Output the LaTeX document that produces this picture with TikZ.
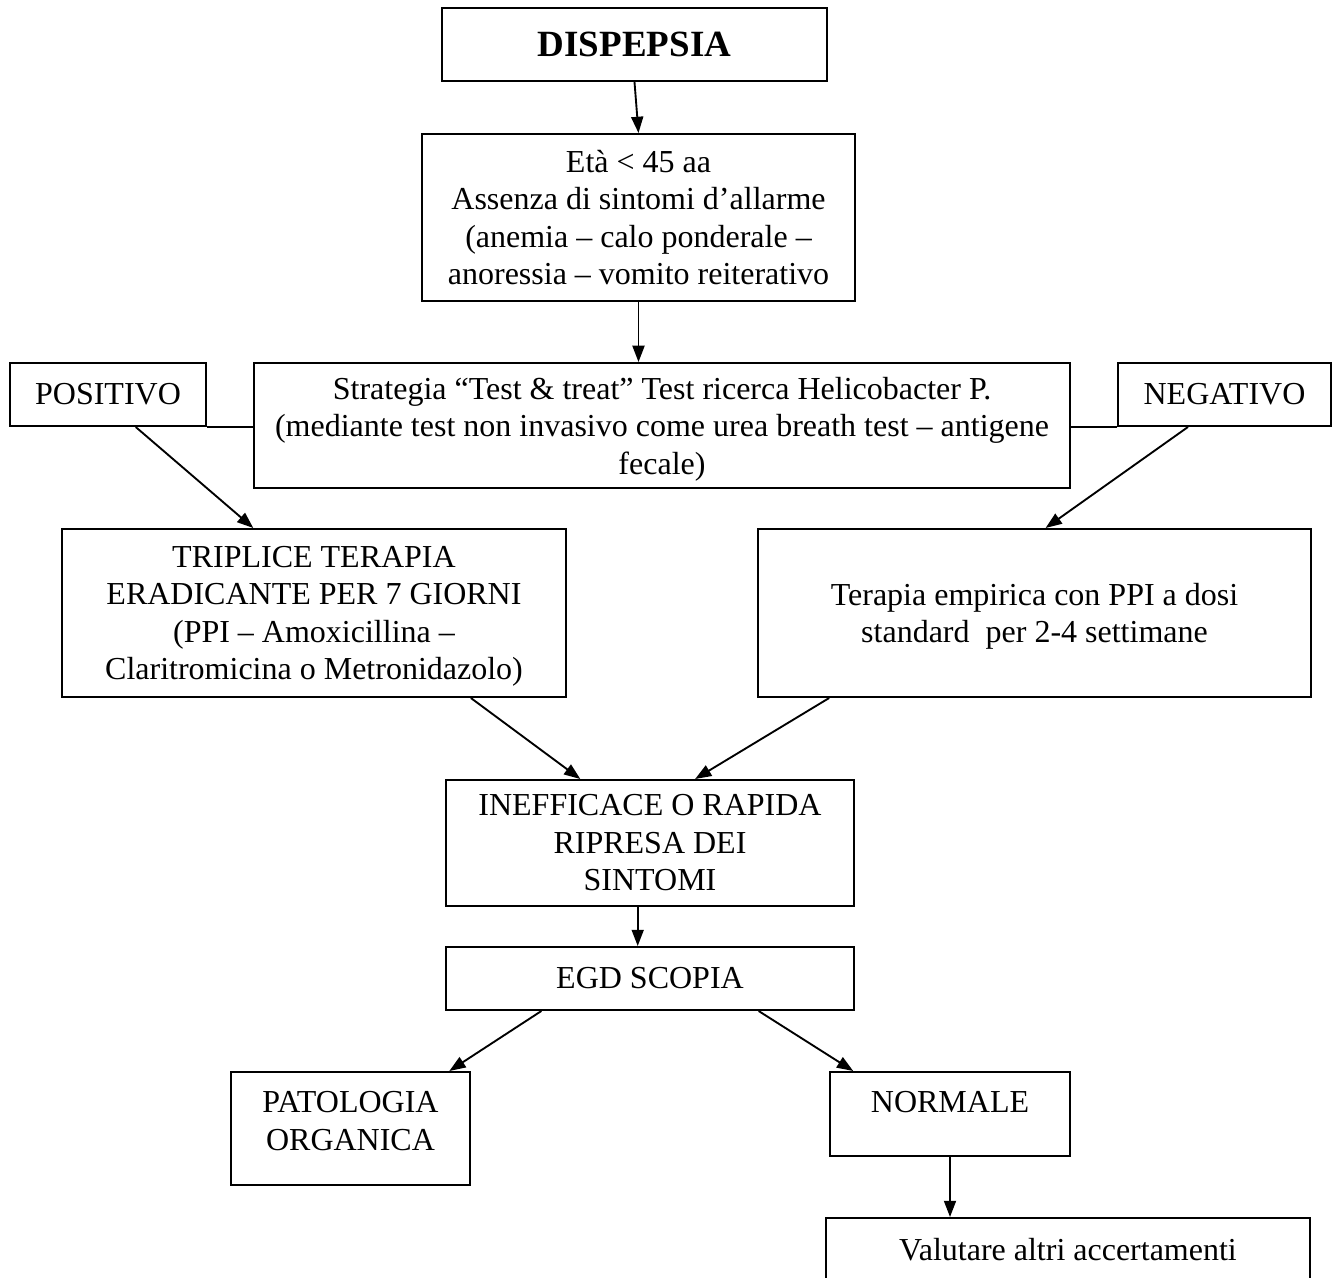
\documentclass[tikz,border=0pt]{standalone}
\usepackage{fontspec}
\setmainfont{Liberation Serif}
\usetikzlibrary{arrows.meta, calc}

\begin{document}
\begin{tikzpicture}[x=0.4pt, y=-0.4pt,
  box/.style={draw, line width=0.8pt, inner sep=0pt, align=center, font=\fontsize{12.8}{15}\selectfont},
  arr/.style={line width=0.75pt, -{Triangle[length=6.5pt, width=4.8pt]}},
  link/.style={line width=0.8pt}]
  \clip (0,0) rectangle (1332,1278);

  % Top of the chart
  \node[box, minimum width=154pt, minimum height=29.2pt, font=\fontsize{14.8}{18}\selectfont\bfseries] (disp) at (634.5,44.5) {DISPEPSIA};
  \node[box, minimum width=173.2pt, minimum height=66.8pt] (eta) at (638.5,217.5) {
    Età < 45 aa\\
    Assenza di sintomi d’allarme\\
    (anemia – calo ponderale –\\
    anoressia – vomito reiterativo
  };

  % Test row
  \node[box, minimum width=78.4pt, minimum height=25.2pt] (pos) at (108,394.5) {POSITIVO};
  \node[box, minimum width=326.4pt, minimum height=50pt, text depth=-6.5pt] (strat) at (662,425.5) {
    Strategia “Test \& treat” Test ricerca Helicobacter P.\\
    (mediante test non invasivo come urea breath test – antigene\\
    fecale)
  };
  \node[box, minimum width=85.2pt, minimum height=25.2pt] (neg) at (1224.5,394.5) {NEGATIVO};

  % Therapies
  \node[box, minimum width=201.6pt, minimum height=67.2pt, text depth=-4.5pt] (trip) at (314,613) {
    TRIPLICE TERAPIA\\
    ERADICANTE PER 7 GIORNI\\
    (PPI – Amoxicillina –\\
    Claritromicina o Metronidazolo)
  };
  \node[box, minimum width=221.2pt, minimum height=67.2pt, text depth=-5.5pt] (emp) at (1034.5,613) {
    Terapia empirica con PPI a dosi\\
    standard~ per 2-4 settimane
  };

  % Follow-up
  \node[box, minimum width=163.2pt, minimum height=50.4pt] (ineff) at (650,843) {
    INEFFICACE O RAPIDA\\
    RIPRESA DEI\\
    SINTOMI
  };
  \node[box, minimum width=163.2pt, minimum height=25.2pt] (egd) at (650,978.5) {EGD SCOPIA};
  \node[box, minimum width=95.6pt, minimum height=45.2pt, text depth=6pt] (pat) at (350.5,1128.5) {
    PATOLOGIA\\
    ORGANICA
  };
  \node[box, minimum width=96pt, minimum height=33.6pt, text depth=9.6pt] (norm) at (950,1114) {NORMALE};
  \node[box, minimum width=193.6pt, minimum height=25.6pt] (valut) at (1068,1250) {Valutare altri accertamenti};

  % Connectors
  \draw[arr] (disp.south) -- (eta.north);
  \draw[arr] (eta.south) -- (eta.south |- strat.north);
  \draw[link] (pos.south east) -- (pos.south east -| strat.west);
  \draw[link] (neg.south west) -- (neg.south west -| strat.east);
  \draw[arr] ($(pos.south west)!.64!(pos.south east)$) -- ($(trip.north west)!.38!(trip.north east)$);
  \draw[arr] ($(neg.south west)!.33!(neg.south east)$) -- ($(emp.north west)!.52!(emp.north east)$);
  \draw[arr] ($(trip.south west)!.81!(trip.south east)$) -- ($(ineff.north west)!.33!(ineff.north east)$);
  \draw[arr] ($(emp.south west)!.13!(emp.south east)$) -- ($(ineff.north west)!.61!(ineff.north east)$);
  \draw[arr] ($(ineff.south west)!.47!(ineff.south east)$) -- ($(egd.north west)!.47!(egd.north east)$);
  \draw[arr] ($(egd.south west)!.235!(egd.south east)$) -- ($(pat.north west)!.91!(pat.north east)$);
  \draw[arr] ($(egd.south west)!.765!(egd.south east)$) -- ($(norm.north west)!.1!(norm.north east)$);
  \draw[arr] (norm.south) -- (norm.south |- valut.north);
\end{tikzpicture}
\end{document}
